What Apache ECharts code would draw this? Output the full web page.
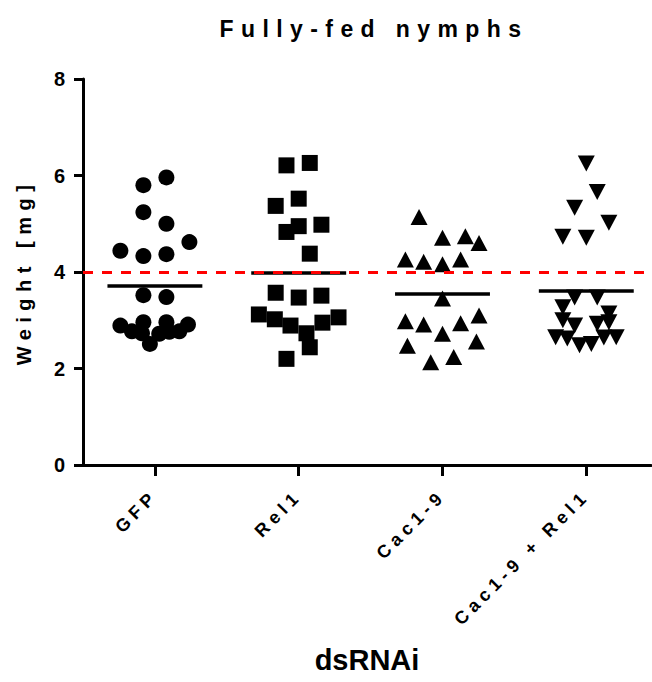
<!DOCTYPE html>
<html><head><meta charset="utf-8">
<script src="https://cdn.jsdelivr.net/npm/echarts@6/dist/echarts.min.js"></script>
<style>html,body{margin:0;padding:0;background:#fff}#chart{width:652px;height:682px}</style>
</head><body><div id="chart"></div>
<script>
// ---- data ----
const categories = ['GFP', 'Rel1', 'Cac1-9', 'Cac1-9 + Rel1'];
const titleText = 'Fully-fed nymphs';
const yAxisTitle = 'Weight [mg]';
const xAxisTitle = 'dsRNAi';
const yTicks = [0, 2, 4, 6, 8];

const gfpWeight = [5.80, 5.96, 5.24, 5.00, 4.62, 4.44, 4.33, 4.37, 3.52, 3.48, 2.89, 2.96, 2.96, 2.91, 2.77, 2.73, 2.51, 2.72, 2.76, 2.77];
const gfpJitter = [-0.08, 0.08, -0.08, 0.08, 0.24, -0.24, -0.08, 0.08, -0.08, 0.08, -0.24, -0.08, 0.08, 0.23, -0.16, -0.09, -0.035, 0.03, 0.10, 0.17];

const rel1Weight = [6.21, 6.26, 5.37, 5.52, 4.83, 4.95, 4.98, 4.38, 3.57, 3.47, 3.51, 3.12, 3.02, 2.89, 2.73, 2.44, 2.95, 3.06, 2.20];
const rel1Jitter = [-0.085, 0.077, -0.16, 0.0, -0.085, 0.0, 0.158, 0.077, -0.16, 0.0, 0.158, -0.277, -0.166, -0.057, 0.054, 0.077, 0.165, 0.277, -0.085];

const cacWeight = [5.14, 4.71, 4.74, 4.60, 4.26, 4.21, 4.16, 4.26, 3.45, 2.98, 2.91, 2.94, 3.10, 2.72, 2.47, 2.56, 2.13, 2.24];
const cacJitter = [-0.163, 0.0, 0.159, 0.254, -0.258, -0.131, 0.0, 0.126, 0.0, -0.258, -0.131, 0.126, 0.254, 0.0, -0.244, 0.236, -0.082, 0.078];

const cacRelWeight = [6.25, 5.66, 5.33, 5.02, 4.73, 4.71, 3.47, 3.47, 3.27, 3.14, 3.00, 2.89, 2.93, 2.96, 2.65, 2.62, 2.48, 2.51, 2.64, 2.65];
const cacRelJitter = [0.0, 0.076, -0.081, 0.157, -0.163, 0.0, -0.081, 0.076, -0.163, 0.157, -0.163, -0.081, 0.076, 0.157, -0.213, -0.132, -0.047, 0.035, 0.122, 0.208];

const groupMeans = [3.72, 3.98, 3.54, 3.61];
const referenceLevel = 4;

// ---- chart ----
const FONT = "'Liberation Sans', Arial, sans-serif";
const groups = [
  { w: gfpWeight, j: gfpJitter, symbol: 'circle', size: 16, rot: 0 },
  { w: rel1Weight, j: rel1Jitter, symbol: 'rect', size: 16, rot: 0 },
  { w: cacWeight, j: cacJitter, symbol: 'triangle', size: [17, 16], rot: 0 },
  { w: cacRelWeight, j: cacRelJitter, symbol: 'triangle', size: [17, 16], rot: 180 }
];
const HALF = 0.33;

const series = groups.map((g, i) => ({
  type: 'scatter',
  name: categories[i],
  symbol: g.symbol,
  symbolSize: g.size,
  symbolRotate: g.rot,
  itemStyle: { color: '#000', opacity: 1 },
  data: g.w.map((v, k) => [i + g.j[k], v]),
  z: 3
}));

series.push({
  type: 'scatter',
  name: 'mean',
  data: [],
  silent: true,
  markLine: {
    silent: true,
    symbol: 'none',
    label: { show: false },
    lineStyle: { color: '#000', width: 3.5, type: 'solid' },
    data: groupMeans.map((m, i) => [{ coord: [i - HALF, m] }, { coord: [i + HALF, m] }])
  },
  z: 4
});

series.push({
  type: 'scatter',
  name: 'reference',
  data: [],
  silent: true,
  markLine: {
    silent: true,
    symbol: 'none',
    label: { show: false },
    lineStyle: { color: '#ff0000', width: 3, type: [10, 9] },
    data: [{ yAxis: referenceLevel }]
  },
  z: 6
});

const chart = echarts.init(document.getElementById('chart'), null, { renderer: 'svg' });
chart.setOption({
  animation: false,
  backgroundColor: '#fff',
  title: {
    text: titleText,
    left: 369,
    top: 12,
    textAlign: 'center',
    textStyle: { fontFamily: FONT, fontWeight: 'bold', fontSize: 23, color: '#000' }
  },
  grid: { left: 83, right: 1, top: 79, bottom: 217, outerBoundsMode: 'none' },
  xAxis: {
    type: 'value',
    min: -0.5,
    max: 3.45,
    splitLine: { show: false },
    axisLine: { show: true, onZero: false, lineStyle: { color: '#000', width: 3 } },
    axisTick: { show: true, customValues: [0, 1, 2, 3], length: 11, lineStyle: { color: '#000', width: 3 } },
    axisLabel: {
      show: true,
      customValues: [0, 1, 2, 3],
      rotate: 45,
      margin: 28,
      fontFamily: FONT, fontWeight: 'bold', fontSize: 18, color: '#000',
      formatter: v => categories[Math.round(v)]
    },
    name: xAxisTitle,
    nameLocation: 'middle',
    nameGap: 180,
    nameTextStyle: { fontFamily: FONT, fontWeight: 'bold', fontSize: 29, color: '#000', verticalAlign: 'top' }
  },
  yAxis: {
    type: 'value',
    min: 0,
    max: 8,
    interval: 2,
    splitLine: { show: false },
    axisLine: { show: true, onZero: false, lineStyle: { color: '#000', width: 3 } },
    axisTick: { show: true, length: 9, lineStyle: { color: '#000', width: 3 } },
    axisLabel: {
      margin: 18,
      fontFamily: FONT, fontWeight: 'bold', fontSize: 20, color: '#000',
      formatter: v => String(v)
    },
    name: yAxisTitle,
    nameLocation: 'middle',
    nameGap: 49,
    nameRotate: 90,
    nameTextStyle: { fontFamily: FONT, fontWeight: 'bold', fontSize: 20, color: '#000' }
  },
  series: series
});

// Prism-style character spacing
function applySpacing() {
  const spacing = {};
  spacing[titleText] = '7.4px';
  spacing[yAxisTitle] = '6.5px';
  categories.forEach(c => { spacing[c] = '5px'; });
  document.querySelectorAll('#chart text').forEach(t => {
    const s = spacing[t.textContent];
    if (s) t.style.letterSpacing = s;
  });
}
applySpacing();
chart.on('finished', applySpacing);
</script>
</body></html>
